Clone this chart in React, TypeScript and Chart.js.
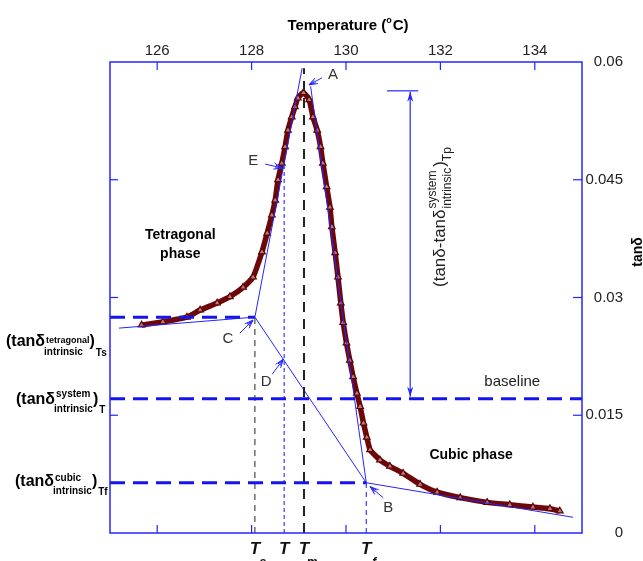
import React, { useEffect, useRef } from 'react';
import { Chart, registerables } from 'chart.js';

Chart.register(...registerables);

// ---- data ----
const temperature = [125.67, 126.12, 126.63, 126.91, 127.27, 127.54, 127.82, 128.03, 128.22, 128.33, 128.43, 128.50, 128.56, 128.64, 128.71, 128.77, 128.85, 128.92, 128.98, 129.10, 129.22, 129.30, 129.39, 129.46, 129.51, 129.59, 129.66, 129.70, 129.77, 129.83, 129.89, 129.94, 130.01, 130.08, 130.15, 130.23, 130.30, 130.37, 130.44, 130.51, 130.72, 130.93, 131.21, 131.57, 131.93, 132.42, 132.99, 133.47, 133.96, 134.32, 134.53];
const tanDelta = [0.0265, 0.0269, 0.0275, 0.0284, 0.0293, 0.0301, 0.0313, 0.0326, 0.0358, 0.0382, 0.0405, 0.0424, 0.0450, 0.0471, 0.0492, 0.0513, 0.0530, 0.0543, 0.0554, 0.0561, 0.0552, 0.0530, 0.0513, 0.0492, 0.0471, 0.0441, 0.0415, 0.0390, 0.0357, 0.0326, 0.0293, 0.0268, 0.0242, 0.0220, 0.0199, 0.0178, 0.0161, 0.0140, 0.0122, 0.0106, 0.0093, 0.0085, 0.0076, 0.0062, 0.0052, 0.0045, 0.0039, 0.0036, 0.0033, 0.0031, 0.0028];

const xTicks = [126, 128, 130, 132, 134];
const yTicks = [0, 0.015, 0.03, 0.045, 0.06];
const yTickLabels = ['0', '0.015', '0.03', '0.045', '0.06'];

// characteristic temperatures and levels
const tempTs = 128.07;
const tempT = 128.69;
const tempTm = 129.11;
const tempTf = 130.43;
const levelTetragonal = 0.0275;
const levelSystem = 0.0171;
const levelCubic = 0.0064;
const levelPeak = 0.0562;
const levelE = 0.0470;
const levelD = 0.0220;
const tempMin = 125;
const tempMax = 135;
const arrowTemp = 131.36;
const arrowCapTemps = [130.87, 131.53];

// fitted lines
const tetraFitT = [125.19, tempTs];
const tetraFitY = [0.0261, levelTetragonal];
const riseTanT = [tempTs, 129.07];
const riseTanY = [levelTetragonal, 0.0592];
const fallTanT = [129.25, tempTf];
const fallTanY = [0.0569, levelCubic];
const crossT = [tempTs, tempTf];
const crossY = [levelTetragonal, levelCubic];
const cubicFitT = [tempTf, 134.81];
const cubicFitY = [levelCubic, 0.0020];
const tmTopLevel = 0.0592;

const BLUE = '#2424ff';
const DASHBLUE = '#1414f0';
const FONT = 'Arial, "Liberation Sans", sans-serif';

const pts = (xs: number[], ys: number[]) => xs.map((v, i) => ({ x: v, y: ys[i] }));

function lineDs(xs: number[], ys: number[], color: string, width: number, dash: number[] = []) {
  return {
    type: 'line' as const,
    data: pts(xs, ys),
    borderColor: color,
    borderWidth: width,
    borderDash: dash,
    pointRadius: 0,
    showLine: true,
    fill: false,
    tension: 0,
  };
}

function arrowHead(ctx: CanvasRenderingContext2D, tx: number, ty: number, fx: number, fy: number, len: number, spread: number) {
  const ang = Math.atan2(ty - fy, tx - fx);
  for (const s of [-spread, spread]) {
    ctx.beginPath();
    ctx.moveTo(tx, ty);
    ctx.lineTo(tx - len * Math.cos(ang + s), ty - len * Math.sin(ang + s));
    ctx.stroke();
  }
}

function pointer(ctx: CanvasRenderingContext2D, tipX: number, tipY: number, dx: number, dy: number, label: string, lx: number, ly: number) {
  ctx.strokeStyle = BLUE;
  ctx.lineWidth = 1;
  ctx.beginPath();
  ctx.moveTo(tipX + dx, tipY + dy);
  ctx.lineTo(tipX, tipY);
  ctx.stroke();
  arrowHead(ctx, tipX, tipY, tipX + dx, tipY + dy, 9, 0.35);
  arrowHead(ctx, tipX, tipY, tipX + dx, tipY + dy, 7, 0.2);
  ctx.fillStyle = '#333';
  ctx.font = `15px ${FONT}`;
  ctx.textAlign = 'center';
  ctx.textBaseline = 'middle';
  ctx.fillText(label, tipX + lx, tipY + ly);
}

function leftLabel(ctx: CanvasRenderingContext2D, x: number, y: number, sup: string, supSize: number, supDy: number, subDy: number, tail: string) {
  ctx.fillStyle = '#000';
  ctx.textAlign = 'left';
  ctx.textBaseline = 'alphabetic';
  ctx.font = `bold 16px ${FONT}`;
  ctx.fillText('(tanδ', x, y);
  let cx = x + ctx.measureText('(tanδ').width + 1;
  ctx.font = `bold ${supSize}px ${FONT}`;
  const ws = ctx.measureText(sup).width;
  ctx.fillText(sup, cx, y + supDy);
  ctx.font = `bold 10px ${FONT}`;
  const wi = ctx.measureText('intrinsic').width;
  ctx.fillText('intrinsic', cx - 2, y + subDy);
  cx += Math.max(ws, wi - 2);
  ctx.font = `bold 16px ${FONT}`;
  ctx.fillText(')', cx, y);
  cx += ctx.measureText(')').width + 1;
  ctx.font = `bold 10px ${FONT}`;
  ctx.fillText(tail, cx, y + subDy + 1);
}

const overlay = {
  id: 'overlay',
  afterDatasetsDraw(chart: any) {
    const { ctx, chartArea: a, scales } = chart;
    const X = (v: number) => scales.x.getPixelForValue(v);
    const Y = (v: number) => scales.y.getPixelForValue(v);
    ctx.save();

    // frame with inward ticks
    ctx.strokeStyle = BLUE;
    ctx.lineWidth = 1.5;
    ctx.strokeRect(a.left, a.top, a.right - a.left, a.bottom - a.top);
    ctx.lineWidth = 1.2;
    const seg = (x1: number, y1: number, x2: number, y2: number) => {
      ctx.beginPath(); ctx.moveTo(x1, y1); ctx.lineTo(x2, y2); ctx.stroke();
    };
    xTicks.forEach((v) => {
      const p = X(v);
      seg(p, a.top, p, a.top + 8);
      seg(p, a.bottom, p, a.bottom - 8);
    });
    yTicks.forEach((v) => {
      const p = Y(v);
      if (p <= a.top + 1 || p >= a.bottom - 1) return;
      seg(a.right, p, a.right - 9, p);
      seg(a.left, p, a.left + 8, p);
    });

    // top axis title
    ctx.fillStyle = '#000';
    ctx.textBaseline = 'alphabetic';
    ctx.textAlign = 'left';
    ctx.font = `bold 15px ${FONT}`;
    const t1 = 'Temperature (';
    const t2 = 'C)';
    const w1 = ctx.measureText(t1).width;
    const w3 = ctx.measureText(t2).width;
    ctx.font = `bold 9px ${FONT}`;
    const w2 = ctx.measureText('o').width + 1;
    const cx = (a.left + a.right) / 2 + 2;
    const sx = cx - (w1 + w2 + w3) / 2;
    ctx.font = `bold 15px ${FONT}`;
    ctx.fillText(t1, sx, 30);
    ctx.font = `bold 9px ${FONT}`;
    ctx.fillText('o', sx + w1, 23);
    ctx.font = `bold 15px ${FONT}`;
    ctx.fillText(t2, sx + w1 + w2, 30);

    // right axis title
    ctx.save();
    ctx.translate(642, 252);
    ctx.rotate(-Math.PI / 2);
    ctx.textAlign = 'center';
    ctx.font = `bold 14px ${FONT}`;
    ctx.fillText('tanδ', 0, 0);
    ctx.restore();

    // left labels
    leftLabel(ctx, 6, Y(levelTetragonal) + 29, 'tetragonal', 9, -3, 9, 'Ts');
    leftLabel(ctx, 16, Y(levelSystem) + 5, 'system', 10, -7, 8, 'T');
    leftLabel(ctx, 15, Y(levelCubic) + 3, 'cubic', 10, -5, 8, 'Tf');

    // phase labels
    ctx.fillStyle = '#000';
    ctx.textAlign = 'center';
    ctx.textBaseline = 'middle';
    ctx.font = `bold 14px ${FONT}`;
    ctx.fillText('Tetragonal', X(126.49), Y(0.0380));
    ctx.fillText('phase', X(126.49), Y(0.0380) + 19);
    ctx.fillText('Cubic phase', X(132.65), Y(0.0099));

    // baseline label
    ctx.font = `15px ${FONT}`;
    ctx.fillStyle = '#222';
    ctx.textAlign = 'left';
    ctx.fillText('baseline', X(132.93), Y(levelSystem) - 17);

    // double arrow
    const ax = X(arrowTemp);
    const yTop = Y(levelPeak);
    const yBot = Y(levelSystem) - 2;
    ctx.strokeStyle = BLUE;
    ctx.fillStyle = BLUE;
    ctx.lineWidth = 1.2;
    seg(ax, yTop, ax, yBot);
    seg(X(arrowCapTemps[0]), yTop - 1, X(arrowCapTemps[1]), yTop - 1);
    const head = (yy: number, dir: number) => {
      ctx.beginPath();
      ctx.moveTo(ax, yy);
      ctx.lineTo(ax - 3, yy + dir * 10);
      ctx.lineTo(ax, yy + dir * 7);
      ctx.lineTo(ax + 3, yy + dir * 10);
      ctx.closePath();
      ctx.fill();
    };
    head(yTop, 1);
    head(yBot, -1);

    // rotated label
    ctx.save();
    ctx.translate(445, 287);
    ctx.rotate(-Math.PI / 2);
    ctx.fillStyle = '#222';
    ctx.textAlign = 'left';
    ctx.textBaseline = 'alphabetic';
    ctx.font = `17px ${FONT}`;
    ctx.fillText('(tanδ-tanδ', 0, 0);
    let rx = ctx.measureText('(tanδ-tanδ').width + 1;
    ctx.font = `12px ${FONT}`;
    const rs = ctx.measureText('system').width;
    const ri = ctx.measureText('intrinsic').width;
    ctx.fillText('system', rx, -9);
    ctx.fillText('intrinsic', rx, 6);
    rx += Math.max(rs, ri) + 1;
    ctx.font = `17px ${FONT}`;
    ctx.fillText(')', rx, 0);
    rx += ctx.measureText(')').width;
    ctx.font = `12px ${FONT}`;
    ctx.fillText('Tp', rx, 6);
    ctx.restore();

    // pointers
    pointer(ctx, X(tempTm) + 5, Y(levelPeak) - 7, 13, -7, 'A', 24, -10);
    pointer(ctx, X(tempT) - 2, Y(levelE) + 4, -17, -4, 'E', -29, -7);
    pointer(ctx, X(tempTs) - 2, Y(levelTetragonal) + 3, -13, 13, 'C', -25, 19);
    pointer(ctx, X(tempT) - 1, Y(levelD) - 1, -11, 15, 'D', -17, 23);
    pointer(ctx, X(tempTf) + 4, Y(levelCubic) + 4, 13, 11, 'B', 18, 21);

    // bottom temperature marks
    const tMark = (v: number, sub: string) => {
      const p = X(v);
      ctx.fillStyle = '#111';
      ctx.textAlign = 'center';
      ctx.textBaseline = 'alphabetic';
      ctx.font = `italic bold 17px ${FONT}`;
      ctx.fillText('T', p, 554);
      if (sub) {
        ctx.font = `italic bold 12px ${FONT}`;
        ctx.fillText(sub, p + 8, 566);
      }
    };
    tMark(tempTs, 's');
    tMark(tempT, '');
    tMark(tempTm, 'm');
    tMark(tempTf, 'f');

    ctx.restore();
  },
};

export default function App() {
  const ref = useRef<HTMLCanvasElement | null>(null);
  useEffect(() => {
    if (!ref.current) return;
    const chart = new Chart(ref.current, {
      type: 'line',
      data: {
        datasets: [
          lineDs([tempMin, tempTs], [levelTetragonal, levelTetragonal], DASHBLUE, 3, [15, 8]),
          lineDs([tempMin, tempMax], [levelSystem, levelSystem], DASHBLUE, 3, [15, 8]),
          lineDs([tempMin, tempTf], [levelCubic, levelCubic], DASHBLUE, 3, [15, 8]),
          lineDs([tempTs, tempTs], [0, levelTetragonal], '#222', 1, [6, 5]),
          lineDs([tempT, tempT], [0, levelE], '#3a3aff', 1.2, [4, 3]),
          lineDs([tempTm, tempTm], [0, tmTopLevel], '#222', 2, [10, 7]),
          lineDs([tempTf, tempTf], [0, levelCubic], '#3a3aff', 1.2, [5, 4]),
          lineDs(tetraFitT, tetraFitY, BLUE, 1),
          lineDs(riseTanT, riseTanY, BLUE, 1),
          lineDs(fallTanT, fallTanY, BLUE, 1),
          lineDs(crossT, crossY, BLUE, 1),
          lineDs(cubicFitT, cubicFitY, BLUE, 1),
          {
            type: 'line' as const,
            data: pts(temperature, tanDelta),
            borderColor: '#6e0808',
            borderWidth: 5.5,
            pointStyle: 'triangle',
            pointRadius: 3.8,
            pointBorderWidth: 1.2,
            pointBorderColor: '#5e0000',
            pointBackgroundColor: '#b87a7a',
            showLine: true,
            fill: false,
            tension: 0.15,
          },
        ],
      },
      options: {
        responsive: false,
        animation: false,
        parsing: false,
        layout: { padding: { left: 110, right: 20, top: 0, bottom: 28 } },
        plugins: { legend: { display: false }, tooltip: { enabled: false } },
        scales: {
          x: {
            type: 'linear',
            position: 'top',
            min: tempMin,
            max: tempMax,
            afterBuildTicks: (s: any) => { s.ticks = xTicks.map((v) => ({ value: v })); },
            afterFit: (s: any) => { s.height = 62; },
            grid: { display: false, drawTicks: false },
            border: { display: false },
            ticks: {
              autoSkip: false,
              maxRotation: 0,
              padding: 2,
              color: '#222',
              font: { family: FONT, size: 15 },
              callback: (v: any) => String(v),
            },
          },
          y: {
            type: 'linear',
            position: 'right',
            min: 0,
            max: 0.06,
            afterBuildTicks: (s: any) => { s.ticks = yTicks.map((v) => ({ value: v })); },
            afterFit: (s: any) => { s.width = 41; },
            grid: { display: false, drawTicks: false },
            border: { display: false },
            ticks: {
              autoSkip: false,
              crossAlign: 'far',
              padding: 4,
              color: '#222',
              font: { family: FONT, size: 15 },
              callback: (_v: any, i: number) => yTickLabels[i],
            },
          },
        },
      },
      plugins: [overlay],
    } as any);
    return () => chart.destroy();
  }, []);
  return (
    <div style={{ position: 'absolute', left: 0, top: 0, width: 643, height: 561 }}>
      <canvas ref={ref} width={643} height={561} style={{ display: 'block' }} />
    </div>
  );
}
